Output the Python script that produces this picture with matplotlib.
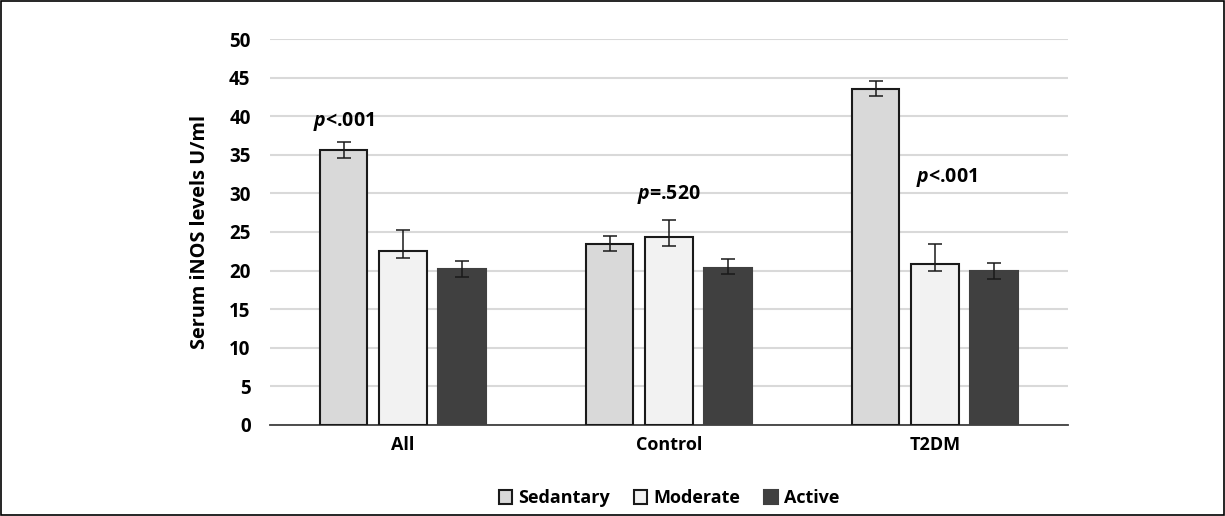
import matplotlib.pyplot as plt
import numpy as np

# Datos
grupos = ["All", "Control", "T2DM"]
niveles = ["Sedantary", "Moderate", "Active"]
sedantary = [35.6, 23.4, 43.5]
moderate = [22.6, 24.3, 20.9]
active = [20.2, 20.4, 19.9]
# errores (abajo, arriba)
err_sed = [[1.0, 0.9, 0.9], [1.0, 1.1, 1.0]]
err_mod = [[1.0, 1.1, 1.0], [2.6, 2.2, 2.5]]
err_act = [[1.0, 0.9, 1.0], [1.0, 1.1, 1.1]]
p_textos = ["<.001", "=.520", "<.001"]
p_pos = [(-0.222, 39.3), (0.0, 29.9), (0.045, 32.0)]

plt.rcParams["font.family"] = "Open Sans"
plt.rcParams["mathtext.fontset"] = "custom"
plt.rcParams["mathtext.it"] = "Open Sans:italic:bold"
plt.rcParams["mathtext.rm"] = "Open Sans:bold"

fig = plt.figure(figsize=(12.25, 5.16), dpi=100)
ax = fig.add_axes([0.2204, 0.1764, 0.6514, 0.748])

x = np.arange(len(grupos))
w = 0.177
d = 0.222
colores = ["#d9d9d9", "#f2f2f2", "#404040"]
bordes = ["#1a1a1a", "#1a1a1a", "#404040"]
series = [sedantary, moderate, active]
errores = [err_sed, err_mod, err_act]
for i in range(3):
    ax.bar(x + (i - 1) * d, series[i], w, color=colores[i], edgecolor=bordes[i],
           linewidth=1.5, label=niveles[i], zorder=3,
           yerr=np.array(errores[i]), capsize=5,
           error_kw=dict(ecolor="#1a1a1a", elinewidth=1.1, capthick=1.1, zorder=4))

for j in range(3):
    ax.text(x[j] + p_pos[j][0], p_pos[j][1], r"$\it{p}$" + p_textos[j],
            ha="center", va="center", fontsize=14, fontweight="bold")

ax.set_xlim(-0.5, 2.5)
ax.set_ylim(0, 50)
ax.set_yticks(np.arange(0, 51, 5))
ax.set_xticks(x)
ax.set_xticklabels(grupos, fontsize=13, fontweight="bold")
for t in ax.get_yticklabels():
    t.set_fontsize(13.5)
    t.set_fontweight("bold")
ax.tick_params(axis="y", length=0, pad=14)
ax.tick_params(axis="x", length=0, pad=8)
ax.grid(axis="y", color="#d9d9d9", linewidth=1.5, zorder=0)
for s in ["top", "right", "left"]:
    ax.spines[s].set_visible(False)
ax.spines["bottom"].set_color("#404040")
ax.spines["bottom"].set_linewidth(1.3)
ax.set_ylabel("Serum iNOS levels U/ml", fontsize=14.3, fontweight="bold", labelpad=14)

ax.legend(loc="center", bbox_to_anchor=(0.5, -0.19),
          ncol=3, frameon=False, prop={"weight": "bold", "size": 13},
          handlelength=0.75, handleheight=0.75, handletextpad=0.35, columnspacing=1.3)

# marco exterior
fig.patches.append(plt.Rectangle((0.001, 0.002), 0.998, 0.996, transform=fig.transFigure,
                                 fill=False, edgecolor="black", linewidth=1.2))

plt.savefig("out.png", dpi=100)
